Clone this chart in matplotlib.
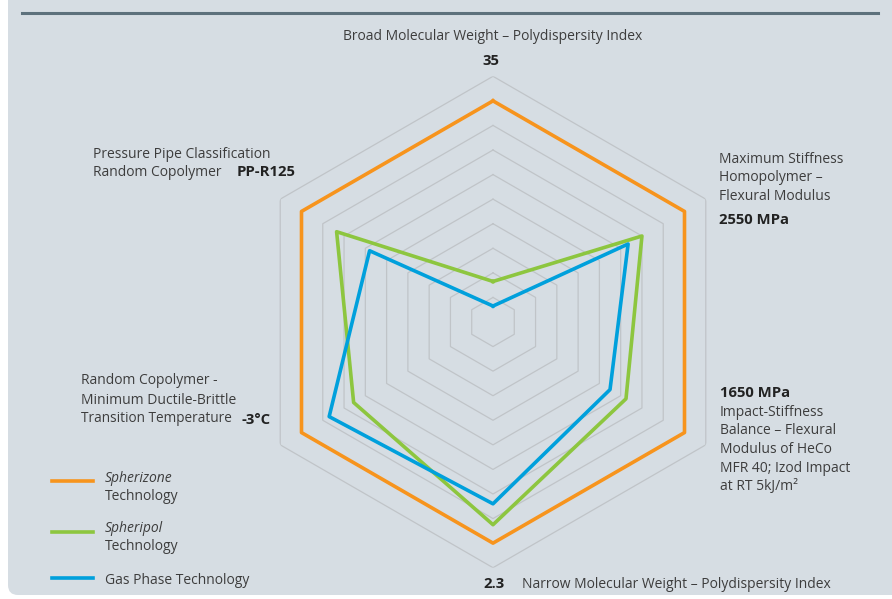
import numpy as np
import matplotlib.pyplot as plt
from matplotlib.patches import FancyBboxPatch
from matplotlib.lines import Line2D

plt.rcParams['font.family'] = ['Open Sans', 'DejaVu Sans']

# axes clockwise from the top
axis_names = ["Broad MW", "Max Stiffness", "Impact-Stiffness", "Narrow MW",
              "Random Copolymer DBTT", "Pressure Pipe"]
spherizone = [9, 9, 9, 9, 9, 9]
spheripol = [1.65, 7.0, 6.25, 8.25, 6.55, 7.35]
gas_phase = [0.65, 6.35, 5.5, 7.4, 7.7, 5.8]
rings = [1, 2, 3, 4, 5, 6, 7, 8, 9, 10]

W, H = 892, 599
fig = plt.figure(figsize=(W / 100, H / 100), dpi=100, facecolor='white')

# panel background
panel = FancyBboxPatch((0.08, 0.04), 9.5, 6.5, boxstyle="round,pad=0,rounding_size=0.1",
                       transform=fig.dpi_scale_trans, facecolor='#d6dde3',
                       edgecolor='none', zorder=-10)
fig.patches.append(panel)
fig.lines.append(Line2D([22 / W, 878 / W], [1 - 12.5 / H, 1 - 12.5 / H],
                        transform=fig.transFigure, color='#5d717c', lw=2.2))

cx, cy, R = 493, 322, 245.7
ax = fig.add_axes([(cx - R) / W, (H - cy - R) / H, 2 * R / W, 2 * R / H], projection='polar')
ax.set_zorder(5)
ax.set_theta_zero_location('N')
ax.set_theta_direction(-1)
ax.set_ylim(0, 10)
ax.patch.set_visible(False)
ax.grid(False)
ax.spines['polar'].set_visible(False)
ax.set_xticks([])
ax.set_yticks([])

n = len(axis_names)
theta = np.linspace(0, 2 * np.pi, n, endpoint=False)
theta_c = np.append(theta, theta[0])

for r in rings:
    ax.plot(theta_c, [r] * (n + 1), color='#c0c4c8', lw=0.9, zorder=1)


def closed(v):
    return list(v) + [v[0]]


ax.plot(theta_c, closed(spherizone), color='#f7941d', lw=2.6, zorder=3)
ax.plot(theta_c, closed(spheripol), color='#8dc63f', lw=2.6, zorder=3)
ax.plot(theta_c, closed(gas_phase), color='#00a0dc', lw=2.6, zorder=4)

txt = '#3d3d3d'
bold = '#222222'
fs = 10.0
fsb = 10.7


def put(x, y, s, **kw):
    kw.setdefault('color', txt)
    kw.setdefault('fontsize', fs)
    fig.text(x / W, 1 - (y + 1) / H, s, va='center', **kw)


def putb(x, y, s, **kw):
    put(x, y, s, fontweight='bold', color=bold, fontsize=fsb, **kw)


put(493, 35, "Broad Molecular Weight – Polydispersity Index", ha='center')
putb(491, 60, "35", ha='center')

put(719, 158, "Maximum Stiffness", ha='left')
put(719, 177, "Homopolymer –", ha='left')
put(719, 195, "Flexural Modulus", ha='left')
putb(719, 219, "2550 MPa", ha='left')

putb(720, 392, "1650 MPa", ha='left')
for i, s in enumerate(["Impact-Stiffness", "Balance – Flexural", "Modulus of HeCo",
                       "MFR 40; Izod Impact", "at RT 5kJ/m²"]):
    put(720, 411 + i * 18.7, s, ha='left')

putb(494, 583, "2.3", ha='center')
put(522, 583, "Narrow Molecular Weight – Polydispersity Index", ha='left')

put(81, 380, "Random Copolymer -", ha='left')
put(81, 399, "Minimum Ductile-Brittle", ha='left')
put(81, 417, "Transition Temperature", ha='left', fontsize=9.8)
putb(242, 419, "-3°C", ha='left')

put(93, 153, "Pressure Pipe Classification", ha='left')
put(93, 171, "Random Copolymer", ha='left')
putb(237, 171, "PP-R125", ha='left')

# legend
legend_items = [("#f7941d", 481, [("Spherizone", 'italic', 477), ("Technology", 'normal', 495)]),
                ("#8dc63f", 532, [("Spheripol", 'italic', 528), ("Technology", 'normal', 546)]),
                ("#00a0dc", 578, [("Gas Phase Technology", 'normal', 580)])]
for col, ly, labels in legend_items:
    fig.lines.append(Line2D([52 / W, 93 / W], [1 - ly / H, 1 - ly / H],
                            transform=fig.transFigure, color=col, lw=2.6))
    for s, style, y in labels:
        put(105, y, s, ha='left', style=style)

fig.savefig('out.png', dpi=100, facecolor=fig.get_facecolor())
